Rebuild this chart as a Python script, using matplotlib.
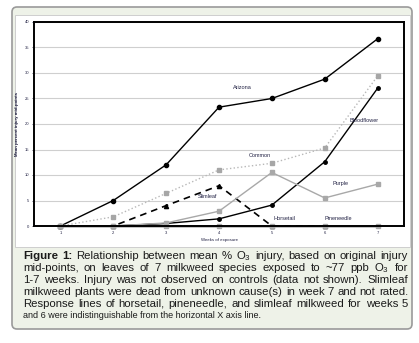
import matplotlib
matplotlib.use('Agg')
import matplotlib.pyplot as plt
from matplotlib.patches import FancyBboxPatch, Rectangle
from matplotlib.transforms import IdentityTransform
import numpy as np

plt.rcParams['font.family'] = ['Liberation Sans', 'DejaVu Sans']
plt.rcParams['mathtext.fontset'] = 'custom'
plt.rcParams['mathtext.rm'] = 'Liberation Sans'
plt.rcParams['mathtext.default'] = 'regular'

# data (mean % injury, weeks 1-7)
weeks = [1, 2, 3, 4, 5, 6, 7]
arizona = [0, 5, 12, 23.3, 25, 28.8, 36.7]
bloodflower = [0, 0, 0.5, 1.4, 4.1, 12.6, 27]
common = [0, 1.8, 6.4, 11, 12.3, 15.3, 29.4]
purple = [0, 0, 0.6, 2.9, 10.5, 5.5, 8.2]
slimleaf = [0, 0, 4, 7.9, 0, 0, np.nan]
horsetail = [0, 0, 0, 0, 0, 0, 0]
pineneedle = [0, 0, 0, 0, 0, 0, 0]
yticks = [0, 5, 10, 15, 20, 25, 30, 35, 40]

W, H = 419, 343
fig = plt.figure(figsize=(W / 100, H / 100), dpi=100)

def px(x, y):
    # top-left pixel coords -> display coords
    return x, H - y

# outer rounded frame
fx, fy = px(12, 329)
fig.patches.append(FancyBboxPatch((fx, fy), 400, 322, boxstyle='round,pad=0,rounding_size=5',
                                  transform=IdentityTransform(), facecolor='#eef2e8',
                                  edgecolor='#9a9a9a', linewidth=1.2, zorder=-3))
# white chart area
wx, wy = px(15, 247)
fig.patches.append(Rectangle((wx, wy), 395, 232, transform=IdentityTransform(),
                             facecolor='white', edgecolor='#c8c8c8', linewidth=0.6, zorder=-2))

ax = fig.add_axes([34 / W, (H - 226) / H, 370 / W, 204 / H])
ax.patch.set_alpha(0)
ax.set_xlim(0.5, 7.5)
ax.set_ylim(0, 40)
ax.set_yticks(yticks)
ax.set_xticks(weeks)
ax.yaxis.grid(True, color='#cfcfcf', linewidth=0.8)
ax.set_axisbelow(True)
for s in ax.spines.values():
    s.set_linewidth(1.4)
    s.set_color('black')
ax.tick_params(labelsize=3, length=1.5, width=0.5, pad=2, colors='#222244')
ax.set_xlabel('Weeks of exposure', fontsize=3.2, labelpad=2, color='#222244')
ax.set_ylabel('Mean percent injury mid-points', fontsize=3.2, labelpad=4,
              fontweight='bold', color='#111133')

kw = dict(clip_on=False, linewidth=1)
ax.plot(weeks, arizona, color='black', marker='o', markersize=3, **kw)
ax.plot(weeks, bloodflower, color='black', marker='o', markersize=2.5, **kw)
ax.plot(weeks, pineneedle, color='black', marker='o', markersize=2, **kw)
ax.plot(weeks, slimleaf, color='black', linestyle=(0, (4, 3)), marker='^', markersize=3,
        clip_on=False, linewidth=1.2)
ax.plot(weeks, common, color='#b8b8b8', linestyle=':', marker='s', markersize=3,
        markerfacecolor='#a6a6a6', markeredgecolor='#a6a6a6', **kw)
ax.plot(weeks, purple, color='#a8a8a8', marker='s', markersize=3, **kw)
ax.plot(weeks, horsetail, color='#a8a8a8', marker='s', markersize=3, **kw)

lab = dict(fontsize=4, color='#222244', ha='center', va='center')
ax.text(4.45, 27.2, 'Arizona', **lab)
ax.text(6.75, 20.6, 'Bloodflower', **lab)
ax.text(4.78, 13.8, 'Common', **lab)
ax.text(6.3, 8.3, 'Purple', **lab)
ax.text(3.78, 5.7, 'Slimleaf', **lab)
ax.text(5.23, 1.4, 'Horsetail', **lab)
ax.text(6.25, 1.4, 'Pineneedle', **lab)

# caption, justified lines
lines = [
    [('Figure', 'bold'), ('1:', 'bold'), 'Relationship', 'between', 'mean', '%', 'O$_3$', 'injury,',
     'based', 'on', 'original', 'injury'],
    'mid-points, on leaves of 7 milkweed species exposed to ~77 ppb O$_3$ for'.split(' '),
    '1-7 weeks. Injury was not observed on controls (data not shown). Slimleaf'.split(' '),
    'milkweed plants were dead from unknown cause(s) in week 7 and not rated.'.split(' '),
    'Response lines of horsetail, pineneedle, and slimleaf milkweed for weeks 5'.split(' '),
]
last_line = 'and 6 were indistinguishable from the horizontal X axis line.'

renderer = fig.canvas.get_renderer()
x0, x1 = 23, 408
ys = [256, 268, 280, 292, 304]
for words, y in zip(lines, ys):
    arts = []
    for w in words:
        weight = 'normal'
        if isinstance(w, tuple):
            w, weight = w
        t = fig.text(0, 0, w, fontsize=8.2, fontweight=weight, color='#1a1a1a',
                     va='center', ha='left', transform=IdentityTransform())
        arts.append(t)
    widths = [t.get_window_extent(renderer).width for t in arts]
    gap = (x1 - x0 - sum(widths)) / (len(arts) - 1)
    cx = x0
    for t, w in zip(arts, widths):
        t.set_position(px(cx, y))
        cx += w + gap
fig.text(*px(x0, 316), last_line, fontsize=6.5, color='#1a1a1a', va='center', ha='left',
         transform=IdentityTransform())

fig.savefig('out.png', dpi=100)
